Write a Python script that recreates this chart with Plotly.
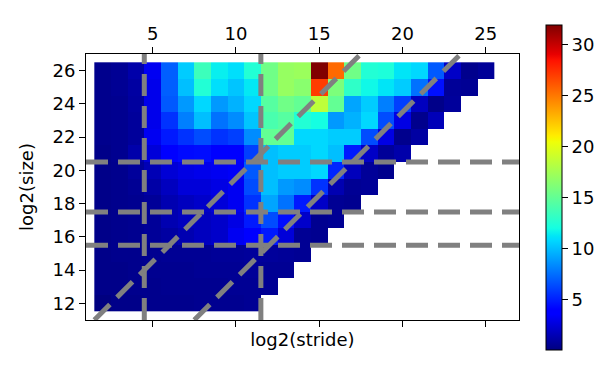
import numpy as np
import plotly.graph_objects as go

# ---- data: log2(stride) columns, log2(size) rows ----
stride = list(range(2, 26))          # x centers 2..25
size = list(range(12, 27))           # y centers 12..26

r26 = [0.4, 0.6, 1.2, 3.2, 7.0, 10.4, 13.5, 11.5, 11.0, 12.5, 15.5, 17.0, 17.2, 31.9, 25.5, 15.5, 12.5, 12.3, 11.2, 10.8, 6.8, 2.0, 0.4, 0.7]
r25 = [0.4, 0.6, 1.0, 3.0, 7.0, 10.0, 12.5, 11.0, 10.2, 11.3, 15.5, 17.0, 16.5, 27.0, 16.0, 13.0, 11.8, 11.2, 10.4, 7.6, 4.5, 0.7, 0.6]
r24 = [0.4, 0.5, 0.9, 3.0, 6.8, 8.8, 10.8, 8.8, 9.6, 10.8, 14.5, 15.5, 15.0, 18.5, 15.0, 9.2, 10.4, 8.0, 6.0, 1.8, 0.3, 0.8]
r23 = [0.4, 0.5, 0.8, 3.0, 5.6, 8.0, 10.0, 7.6, 8.4, 10.2, 14.0, 14.5, 12.5, 12.0, 8.8, 9.6, 10.8, 6.4, 2.8, 0.4, 1.6]
r22 = [0.4, 0.5, 0.8, 3.2, 4.8, 5.6, 6.4, 5.6, 6.0, 8.4, 15.0, 15.0, 10.8, 10.8, 10.4, 10.4, 6.4, 2.8, 0.4, 1.0]
r21 = [0.3, 0.5, 1.2, 2.5, 3.6, 4.3, 4.4, 3.8, 3.8, 6.0, 10.0, 10.4, 10.4, 10.8, 10.0, 4.8, 2.0, 0.7, 1.2]
r20 = [0.3, 0.4, 0.8, 1.5, 2.4, 2.8, 3.0, 3.2, 3.4, 6.8, 10.0, 10.4, 10.4, 10.8, 5.2, 1.7, 0.7, 0.4]
r19 = [0.3, 0.4, 0.6, 1.1, 1.8, 2.5, 2.5, 2.8, 3.2, 6.4, 10.0, 8.8, 8.4, 5.6, 1.4, 0.6, 0.7]
r18 = [0.3, 0.4, 0.5, 0.7, 1.4, 1.8, 2.1, 2.5, 3.2, 5.6, 9.2, 7.6, 4.8, 2.0, 0.6, 0.5]
r17 = [0.3, 0.4, 0.5, 0.7, 1.4, 1.8, 1.8, 2.1, 2.8, 4.8, 6.4, 4.4, 2.1, 0.5, 0.6]
r16 = [0.3, 0.4, 0.5, 0.7, 1.0, 1.4, 1.8, 2.1, 3.2, 3.6, 4.8, 2.5, 0.6, 0.5]
r15 = [0.3, 0.4, 0.4, 0.5, 0.6, 0.6, 0.6, 0.7, 0.7, 0.8, 0.8, 0.7, 0.6]
r14 = [0.3, 0.3, 0.4, 0.5, 0.5, 0.5, 0.6, 0.6, 0.6, 0.7, 0.6, 0.6]
r13 = [0.3, 0.3, 0.4, 0.4, 0.5, 0.5, 0.5, 0.5, 0.6, 0.6, 0.6]
r12 = [0.05, 0.3, 0.3, 0.4, 0.4, 0.4, 0.5, 0.5, 0.5, 0.6]

rows = [r12, r13, r14, r15, r16, r17, r18, r19, r20, r21, r22, r23, r24, r25, r26]
z = [r + [None] * (len(stride) - len(r)) for r in rows]

# reference lines
vlines = [4.5, 11.5]
hlines = [15.5, 17.5, 20.5]
diag_offsets = [9.5, 3.5]      # size = stride + offset

xticks = [5, 10, 15, 20, 25]
yticks = [12, 14, 16, 18, 20, 22, 24, 26]
cbticks = [5, 10, 15, 20, 25, 30]

XR = [1, 27]
YR = [11, 27]

# ---- matplotlib 'jet' colormap ----
def jet_scale():
    pts = sorted(set([0, 0.11, 0.125, 0.34, 0.35, 0.375, 0.64, 0.65, 0.66, 0.89, 0.91, 1.0]))
    out = []
    for t in pts:
        r = np.interp(t, [0, 0.35, 0.66, 0.89, 1], [0, 0, 1, 1, 0.5])
        g = np.interp(t, [0, 0.125, 0.375, 0.64, 0.91, 1], [0, 0, 1, 1, 0, 0])
        b = np.interp(t, [0, 0.11, 0.34, 0.65, 1], [0.5, 1, 1, 0, 0])
        out.append([t, f"rgb({int(round(r*255))},{int(round(g*255))},{int(round(b*255))})"])
    return out

FONT = "DejaVu Sans"
fig = go.Figure()
fig.add_trace(go.Heatmap(
    x=stride, y=size, z=z, colorscale=jet_scale(), zsmooth=False,
    hoverongaps=False,
    colorbar=dict(
        x=1.0617, xanchor="left", y=0.498, yanchor="middle",
        len=325, lenmode="pixels", thickness=16, xpad=0, ypad=0,
        outlinewidth=1, outlinecolor="black",
        tickvals=cbticks, ticks="outside", ticklen=6, tickwidth=1, tickcolor="black",
        tickfont=dict(family=FONT, size=18, color="black"),
    ),
))
# dummy trace for top axis
fig.add_trace(go.Scatter(x=[None], y=[None], xaxis="x2", showlegend=False, hoverinfo="skip"))

line_style = dict(color="rgb(128,128,128)", width=5, dash="22px,10px")
shapes = []
for v in vlines:
    shapes.append(dict(type="line", xref="x", yref="y", x0=v, x1=v, y0=YR[0], y1=YR[1], line=line_style))
for h in hlines:
    shapes.append(dict(type="line", xref="x", yref="y", x0=XR[0], x1=XR[1], y0=h, y1=h, line=line_style))
for off in diag_offsets:
    xs = max(XR[0], YR[0] - off)
    xe = min(XR[1], YR[1] - off)
    shapes.append(dict(type="line", xref="x", yref="y", x0=xs, x1=xe, y0=xs + off, y1=xe + off, line=line_style))

axis_common = dict(showline=True, linecolor="black", linewidth=1, ticks="outside", ticklen=6,
                   tickwidth=1, tickcolor="black", showgrid=False, zeroline=False, automargin=False,
                   tickfont=dict(family=FONT, size=18, color="black"))

# page body adds an 8px offset; figure occupies 8..613 x 8..369
fig.update_layout(
    width=605, height=361,
    margin=dict(l=78, r=94, t=46, b=49, autoexpand=False),
    paper_bgcolor="white", plot_bgcolor="white",
    shapes=shapes,
    xaxis=dict(range=XR, tickvals=xticks, showticklabels=False, mirror=True,
               title=dict(text="log2(stride)", font=dict(family=FONT, size=18, color="black"), standoff=7),
               **axis_common),
    xaxis2=dict(range=XR, overlaying="x", side="top", matches="x", tickvals=xticks, **axis_common),
    yaxis=dict(range=YR, tickvals=yticks, mirror=True,
               title=dict(text="log2(size)", font=dict(family=FONT, size=18, color="black"), standoff=14),
               **axis_common),
    font=dict(family=FONT, size=18, color="black"),
)

fig.write_html("out.html")
